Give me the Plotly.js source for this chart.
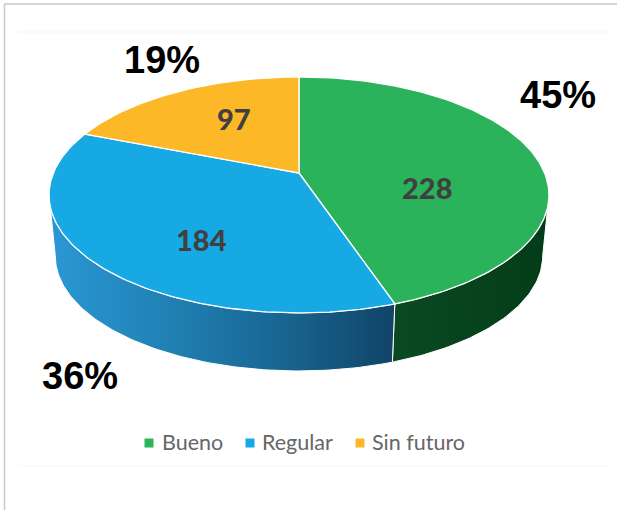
<!DOCTYPE html>
<html><head><meta charset="utf-8">
<script src="https://cdn.plot.ly/plotly-3.0.1.min.js"></script>
<style>html,body{margin:0;padding:0;background:#fff}#c{width:617px;height:510px}</style>
</head><body><div id="c"></div>
<script>
const categories = ['Bueno','Regular','Sin futuro'];
const counts = [228,184,97];
const percentLabels = ['45%','36%','19%'];
const colors = ['#2bb35b','#17a9e3','#fdb827'];
const sideScales = [
  [[0,'#0a4a22'],[1,'#033c18']],
  [[0,'#2b97d4'],[0.3,'#2184b8'],[0.6,'#1a6c9a'],[1,'#114468']],
  [[0,'#c98f10'],[1,'#c98f10']]
];

// Perspective disc geometry (plot units are pixels of the 617x510 frame)
const CX=299, CY=173, A=245.6, B=113.9, K=0.186;
const SIDE_SCALE=0.975, SIDE_CY=234.5;
const total = counts.reduce((a,b)=>a+b,0);
const rad = d=>d*Math.PI/180;
function proj(deg, s, cy){
  const u=Math.sin(rad(deg)), v=Math.cos(rad(deg)), d=1+K*v;
  return [CX+s*A*u/d, cy-s*B*v/d];
}
function arc(a0,a1,s,cy){
  const pts=[], n=Math.max(2,Math.ceil(Math.abs(a1-a0)));
  for(let i=0;i<=n;i++) pts.push(proj(a0+(a1-a0)*i/n,s,cy));
  return pts;
}
const limL = 360-Math.acos(-K)*180/Math.PI, limR = Math.acos(-K)*180/Math.PI;

const traces=[], topTraces=[];
let start=0;
counts.forEach((c,i)=>{
  const end=start+360*c/total;
  const a0=Math.max(start,limR), a1=Math.min(end,limL);
  if(a1>a0){
    const top=arc(a0,a1,1,CY), bot=arc(a1,a0,SIDE_SCALE,SIDE_CY);
    const p=top.concat(bot); p.push(top[0]);
    traces.push({type:'scatter',mode:'lines',x:p.map(q=>q[0]),y:p.map(q=>q[1]),
      fill:'toself',fillgradient:{type:'horizontal',colorscale:sideScales[i]},
      line:{color:'#ffffff',width:1},hoverinfo:'skip',showlegend:false});
  }
  const a=arc(start,end,1,CY); 
  const poly=[[CX,CY]].concat(a); poly.push([CX,CY]);
  topTraces.push({type:'scatter',mode:'lines',name:categories[i],x:poly.map(q=>q[0]),y:poly.map(q=>q[1]),
      fill:'toself',fillcolor:colors[i],line:{color:'#ffffff',width:1.3},
      hoverinfo:'name',showlegend:false});
  start=end;
});

// label anchor positions
const valuePos=[[427,187],[201,239],[234,118]];
const pctPos=[[558,95],[80,376],[162,60]];
const legendMarkX=[149,250,360], legendTextX=[162,262,372], LEGEND_Y=443;

const legendTrace={type:'scatter',mode:'markers',x:legendMarkX,y:categories.map(()=>LEGEND_Y),
  marker:{symbol:'square',size:9,color:colors},hoverinfo:'skip',showlegend:false};

const annotations=[];
counts.forEach((c,i)=>{
  annotations.push({x:valuePos[i][0],y:valuePos[i][1],text:String(c),showarrow:false,
    font:{family:'Lato',size:29,color:'#404040',weight:900},xanchor:'center',yanchor:'middle'});
  annotations.push({x:pctPos[i][0],y:pctPos[i][1],text:percentLabels[i],showarrow:false,
    font:{family:'Liberation Sans',size:38,color:'#000000',weight:700},xanchor:'center',yanchor:'middle'});
  annotations.push({x:legendTextX[i],y:LEGEND_Y-1.5,text:categories[i],showarrow:false,
    font:{family:'Lato',size:21.5,color:'#666666'},xanchor:'left',yanchor:'middle',xshift:-2});
});

const ax={range:[0,617],visible:false,fixedrange:true};
Plotly.newPlot('c',traces.concat(topTraces,[legendTrace]),{
  width:617,height:510,margin:{l:0,r:0,t:0,b:0},
  paper_bgcolor:'#ffffff',plot_bgcolor:'#ffffff',showlegend:false,
  xaxis:ax,
  yaxis:{range:[510,0],visible:false,fixedrange:true},
  annotations,
  shapes:[
    {type:'line',x0:4.5,x1:4.5,y0:4,y1:510,line:{color:'#c9c9c9',width:1.5},layer:'below'},
    {type:'line',x0:4,x1:617,y0:4,y1:4,line:{color:'#c9c9c9',width:1.5},layer:'below'},
    {type:'rect',x0:18,x1:610,y0:30,y1:34,fillcolor:'#fafafa',line:{width:0},layer:'below'},
    {type:'line',x0:18,x1:610,y0:466,y1:466,line:{color:'#f8f8f8',width:1},layer:'below'}
  ]
},{displayModeBar:false,staticPlot:false});
</script></body></html>
